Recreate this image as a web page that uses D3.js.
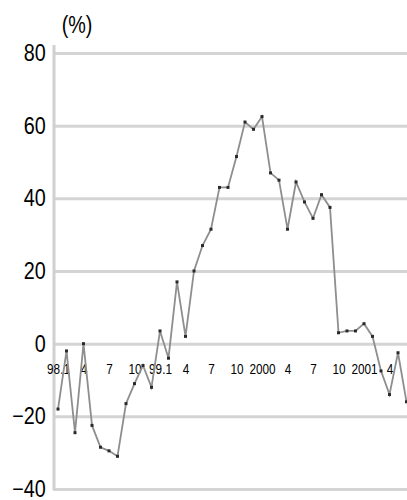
<!DOCTYPE html>
<html>
<head>
<meta charset="utf-8">
<script src="https://cdn.jsdelivr.net/npm/d3@7/dist/d3.min.js"></script>
<style>
  html, body { margin: 0; padding: 0; background: #fff; }
  svg { display: block; }
  text { font-family: "Liberation Sans", Arial, sans-serif; fill: #000; }
</style>
</head>
<body>
<svg id="chart" width="407" height="500"></svg>
<script>
// Monthly categories, Jan 1998 – Jun 2001
const months = [
  "1998-01","1998-02","1998-03","1998-04","1998-05","1998-06",
  "1998-07","1998-08","1998-09","1998-10","1998-11","1998-12",
  "1999-01","1999-02","1999-03","1999-04","1999-05","1999-06",
  "1999-07","1999-08","1999-09","1999-10","1999-11","1999-12",
  "2000-01","2000-02","2000-03","2000-04","2000-05","2000-06",
  "2000-07","2000-08","2000-09","2000-10","2000-11","2000-12",
  "2001-01","2001-02","2001-03","2001-04","2001-05","2001-06"
];

// Year-on-year change (%)
const values = [
  -18, -2, -24.5, 0, -22.5, -28.5, -29.5, -31, -16.5, -11, -6, -12,
  3.5, -4, 17, 2, 20, 27, 31.5, 43, 43, 51.5, 61, 59,
  62.5, 47, 45, 31.5, 44.5, 39, 34.5, 41, 37.5, 3, 3.5, 3.5,
  5.5, 2, -7.5, -14, -2.5, -16
];

// Category tick labels (quarterly)
const tickMonths = [
  "1998-01","1998-04","1998-07","1998-10",
  "1999-01","1999-04","1999-07","1999-10",
  "2000-01","2000-04","2000-07","2000-10",
  "2001-01","2001-04"
];
const tickLabels = ["98.1","4","7","10","99.1","4","7","10","2000","4","7","10","2001","4"];

// Value axis ticks
const yTicks = [-40, -20, 0, 20, 40, 60, 80];
const unitLabel = "(%)";

const svg = d3.select("#chart");
const W = 407;
const plotLeft = 54;

const x = d3.scalePoint().domain(months).range([58, 406.5]);
const y = d3.scaleLinear().domain([-40, 80]).range([489, 53]);

// Horizontal gridlines
const grid = svg.append("g")
  .attr("transform", `translate(${plotLeft},0)`)
  .call(d3.axisLeft(y).tickValues(yTicks).tickSize(-(W - plotLeft)).tickFormat(""));
grid.select(".domain").remove();
grid.selectAll(".tick line")
  .attr("stroke", "#d4d4d4")
  .attr("stroke-width", 3);

// Vertical value axis line
svg.append("line")
  .attr("x1", plotLeft).attr("x2", plotLeft)
  .attr("y1", y(80) - 8).attr("y2", y(-40) + 1.5)
  .attr("stroke", "#d0d0d0")
  .attr("stroke-width", 3);

// Value axis labels
const yAxis = svg.append("g")
  .attr("transform", `translate(${plotLeft},0)`)
  .call(d3.axisLeft(y).tickValues(yTicks).tickSize(0).tickPadding(0).tickFormat(d3.format("d")));
yAxis.select(".domain").remove();
yAxis.selectAll(".tick text")
  .attr("x", -9.5)
  .attr("dy", "0.32em")
  .attr("transform", "scale(0.86,1)")
  .style("font-size", "23px")
  .style("font-family", "\"Liberation Sans\", Arial, sans-serif")
  .attr("fill", "#000");

// Unit label
svg.append("text")
  .attr("transform", "translate(77,33) scale(0.86,1)")
  .attr("text-anchor", "middle")
  .style("font-size", "23px")
  .text(unitLabel);

// Category axis labels, just below the zero line
const labelOf = new Map(tickMonths.map((m, i) => [m, tickLabels[i]]));
const xAxis = svg.append("g")
  .attr("transform", `translate(0,${y(0)})`)
  .call(d3.axisBottom(x).tickValues(tickMonths).tickSize(0).tickPadding(0)
    .tickFormat(m => labelOf.get(m)));
xAxis.select(".domain").remove();
xAxis.selectAll(".tick text")
  .attr("y", 30.5)
  .attr("dy", 0)
  .attr("x", 0)
  .attr("transform", "scale(0.76,1)")
  .style("font-size", "15.5px")
  .style("font-family", "\"Liberation Sans\", Arial, sans-serif")
  .attr("fill", "#000");

// Series line
const line = d3.line()
  .x((d, i) => x(months[i]))
  .y(d => y(d));

svg.append("path")
  .datum(values)
  .attr("fill", "none")
  .attr("stroke", "#8e8e8e")
  .attr("stroke-width", 1.8)
  .attr("stroke-linejoin", "miter")
  .attr("d", line);

// Data point markers
svg.append("g")
  .selectAll("rect")
  .data(values)
  .join("rect")
  .attr("x", (d, i) => x(months[i]) - 1.5)
  .attr("y", d => y(d) - 1.5)
  .attr("width", 3)
  .attr("height", 3)
  .attr("fill", "#2a2a2a");
</script>
</body>
</html>
